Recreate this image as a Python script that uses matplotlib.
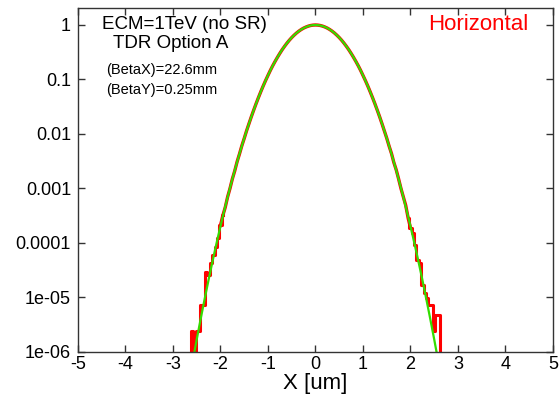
import numpy as np
import matplotlib
matplotlib.use('Agg')
import matplotlib.pyplot as plt
from matplotlib.ticker import FixedLocator, FixedFormatter

plt.rcParams['font.family'] = ['Liberation Sans', 'DejaVu Sans']

# bin centres, -2.75 .. 2.75 um in 0.05 steps
x_um = np.linspace(-2.75, 2.75, 111)

# green curve (fit)
fit_left = [1.04e-7, 1.9e-7, 3.3e-7, 5.7e-7, 9.9e-7, 1.70e-6, 2.87e-6, 4.80e-6, 7.95e-6, 1.30e-5,
            2.12e-5, 3.40e-5, 5.41e-5, 8.49e-5, 1.32e-4, 2.03e-4, 3.08e-4, 4.64e-4, 6.92e-4, 1.02e-3,
            1.49e-3, 2.15e-3, 3.06e-3, 4.33e-3, 6.05e-3, 8.37e-3, 1.145e-2, 1.55e-2, 2.08e-2, 2.75e-2,
            3.61e-2, 4.68e-2, 6.01e-2, 7.64e-2, 9.59e-2, 0.119, 0.147, 0.179, 0.215, 0.256,
            0.302, 0.353, 0.407, 0.465, 0.526, 0.588, 0.650, 0.712, 0.771, 0.826,
            0.876, 0.918, 0.953, 0.979, 0.9947]
fit_peak = [1.0]
fit_right = [0.9947, 0.979, 0.953, 0.918, 0.876, 0.826, 0.771, 0.712, 0.650, 0.588,
             0.526, 0.465, 0.407, 0.353, 0.302, 0.256, 0.215, 0.179, 0.147, 0.119,
             9.59e-2, 7.64e-2, 6.01e-2, 4.68e-2, 3.61e-2, 2.75e-2, 2.08e-2, 1.55e-2, 1.145e-2, 8.37e-3,
             6.05e-3, 4.33e-3, 3.06e-3, 2.15e-3, 1.49e-3, 1.02e-3, 6.92e-4, 4.64e-4, 3.08e-4, 2.03e-4,
             1.32e-4, 8.49e-5, 5.41e-5, 3.40e-5, 2.12e-5, 1.30e-5, 7.95e-6, 4.80e-6, 2.87e-6, 1.70e-6,
             9.9e-7, 5.7e-7, 3.3e-7, 1.9e-7, 1.04e-7]
fit_y = fit_left + fit_peak + fit_right

# red histogram
hist_left = [0, 0, 0, 2.4e-6, 0, 2.4e-6, 2.4e-6, 7.2e-6, 7.2e-6, 2.9e-5,
             2.6e-5, 4.3e-5, 6.0e-5, 8.5e-5, 1.25e-4, 2.1e-4, 3.2e-4, 4.5e-4, 7.0e-4, 1.0e-3,
             1.5e-3, 2.1e-3, 3.1e-3, 4.3e-3, 6.1e-3, 8.3e-3, 1.15e-2, 1.55e-2, 2.08e-2, 2.75e-2,
             3.61e-2, 4.68e-2, 6.01e-2, 7.64e-2, 9.59e-2, 0.119, 0.147, 0.179, 0.215, 0.256,
             0.302, 0.353, 0.407, 0.465, 0.526, 0.588, 0.650, 0.712, 0.771, 0.826,
             0.876, 0.918, 0.953, 0.979, 0.9947]
hist_peak = [1.0]
hist_right = [0.9947, 0.979, 0.953, 0.918, 0.876, 0.826, 0.771, 0.712, 0.650, 0.588,
              0.526, 0.465, 0.407, 0.353, 0.302, 0.256, 0.215, 0.179, 0.147, 0.119,
              9.59e-2, 7.64e-2, 6.01e-2, 4.68e-2, 3.61e-2, 2.75e-2, 2.08e-2, 1.55e-2, 1.14e-2, 8.4e-3,
              6.0e-3, 4.4e-3, 3.0e-3, 2.2e-3, 1.5e-3, 1.0e-3, 7.0e-4, 4.9e-4, 2.9e-4, 1.9e-4,
              1.5e-4, 9.0e-5, 4.8e-5, 4.3e-5, 1.7e-5, 1.2e-5, 9.6e-6, 7.2e-6, 7.2e-6, 2.4e-6,
              4.8e-6, 4.8e-6, 0, 0, 0]
hist_y = np.array(hist_left + hist_peak + hist_right)

ytick_vals = [1e-6, 1e-5, 1e-4, 1e-3, 1e-2, 1e-1, 1]
ytick_text = ['1e-06', '1e-05', '0.0001', '0.001', '0.01', '0.1', '1']
xtick_vals = [-5, -4, -3, -2, -1, 0, 1, 2, 3, 4, 5]

fig = plt.figure(figsize=(5.59, 3.94), dpi=100)
ax = fig.add_axes([0.1395, 0.1066, 0.8497, 0.8731])

# dense core looks smooth, sparse tails show the bin steps
core = np.abs(x_um) <= 2.0
ax.plot(x_um[core], hist_y[core], color='#ff0000', lw=2.4)
for side in (x_um <= -1.95, x_um >= 1.95):
    ax.plot(x_um[side], hist_y[side], drawstyle='steps-mid', color='#ff0000', lw=2.2)
ax.plot(x_um, fit_y, color='#33dd00', lw=1.6)

ax.set_yscale('log')
ax.set_xlim(-5, 5)
ax.set_ylim(1e-6, 2.05)
ax.yaxis.set_major_locator(FixedLocator(ytick_vals))
ax.yaxis.set_major_formatter(FixedFormatter(ytick_text))
ax.yaxis.set_minor_locator(FixedLocator([]))
ax.set_xticks(xtick_vals)
ax.set_xticklabels([str(v) for v in xtick_vals])
ax.tick_params(direction='in', top=True, right=True, length=5, width=1,
               labelsize=13, colors='#333333', labelcolor='black')
ax.tick_params(axis='y', pad=5)
ax.tick_params(axis='x', pad=3)
for s in ax.spines.values():
    s.set_color('#333333')
    s.set_linewidth(1)

ax.set_xlabel('X [um]', fontsize=16, labelpad=0)

ax.text(0.05, 0.951, 'ECM=1TeV (no SR)', transform=ax.transAxes, fontsize=13.5, va='center')
ax.text(0.074, 0.896, 'TDR Option A', transform=ax.transAxes, fontsize=13.5, va='center')
ax.text(0.059, 0.82, '(BetaX)=22.6mm', transform=ax.transAxes, fontsize=10.5, va='center')
ax.text(0.059, 0.762, '(BetaY)=0.25mm', transform=ax.transAxes, fontsize=10.5, va='center')
ax.text(0.737, 0.951, 'Horizontal', transform=ax.transAxes, fontsize=16, va='center', color='#ff0000')

fig.savefig('out.png', dpi=100)
